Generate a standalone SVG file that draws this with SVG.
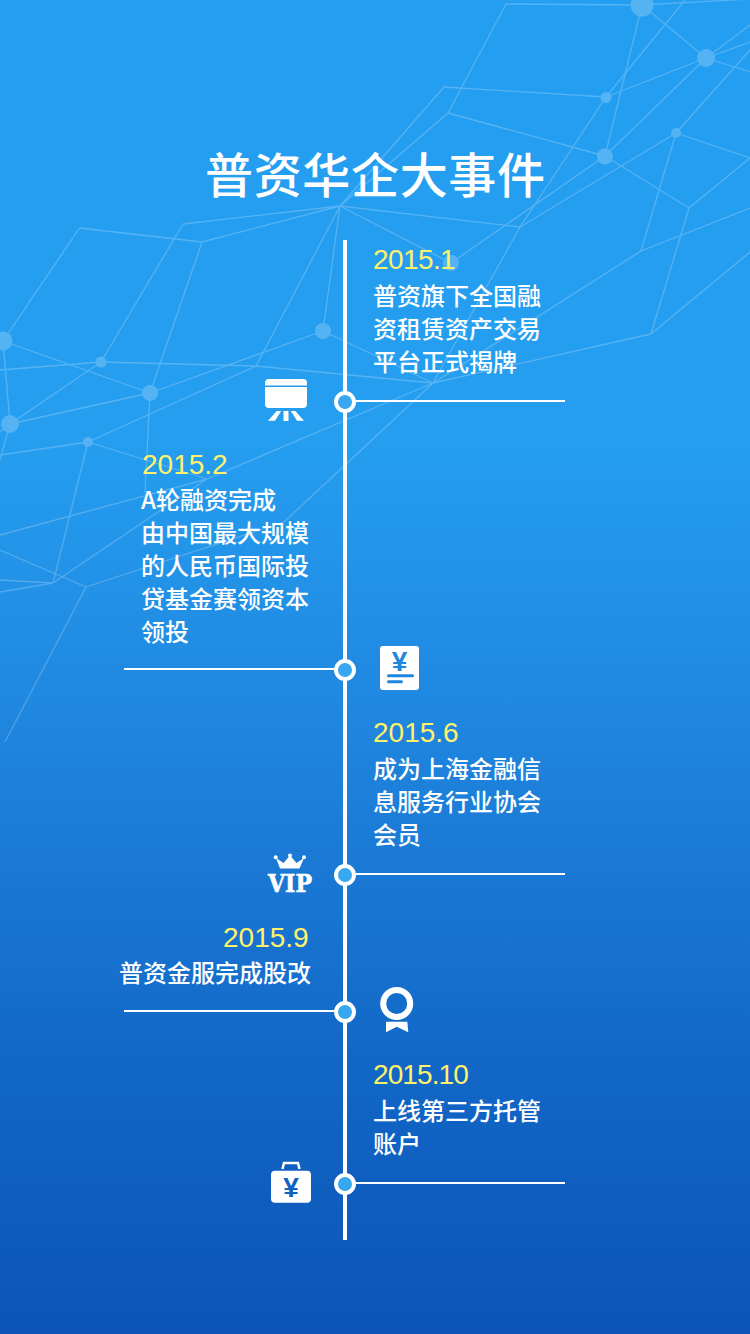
<svg xmlns="http://www.w3.org/2000/svg" width="750" height="1334" viewBox="0 0 750 1334">
<style>
.net{opacity:.22}
.net line{stroke:#fff;stroke-width:1.3}
.net circle{fill:#fff}
.title{font:500 48px "Noto Sans CJK SC","Liberation Sans",sans-serif;fill:#fff}
.date{font:400 28px "Liberation Sans","Noto Sans CJK SC",sans-serif;fill:#fff26b}
.body{font:500 24px "Noto Sans CJK SC","Liberation Sans",sans-serif;fill:#fff}
.rail{stroke:#fff;stroke-width:4;fill:none}
.tick{stroke:#fff;stroke-width:2;fill:none}
.dot{fill:#37a8f0;stroke:#fff;stroke-width:4}
.ic{fill:#fff}
.yen{font:700 28px "Liberation Sans",sans-serif;text-anchor:middle}
</style>
<defs>
<linearGradient id="bg" x1="0" y1="0" x2="0" y2="1">
<stop offset="0" stop-color="#249ef0"/>
<stop offset=".33" stop-color="#259ef0"/>
<stop offset=".55" stop-color="#1f85de"/>
<stop offset=".8" stop-color="#1267c6"/>
<stop offset="1" stop-color="#0c54b7"/>
</linearGradient>
</defs>
<rect width="750" height="1334" fill="url(#bg)"/>
<g class="net" id="network">
<line x1="506" y1="4" x2="642" y2="5"/><line x1="642" y1="5" x2="750" y2="-1"/><line x1="506" y1="4" x2="448" y2="113"/>
<line x1="642" y1="5" x2="706" y2="58"/><line x1="642" y1="5" x2="605" y2="156"/><line x1="706" y1="58" x2="606" y2="97"/>
<line x1="606" y1="97" x2="444" y2="87"/><line x1="606" y1="97" x2="685" y2="0"/><line x1="606" y1="97" x2="520" y2="227"/>
<line x1="520" y1="227" x2="676" y2="133"/><line x1="605" y1="156" x2="451" y2="263"/><line x1="605" y1="156" x2="448" y2="113"/>
<line x1="605" y1="156" x2="706" y2="58"/><line x1="605" y1="156" x2="689" y2="208"/><line x1="689" y1="208" x2="750" y2="158"/>
<line x1="676" y1="133" x2="750" y2="158"/><line x1="676" y1="133" x2="641" y2="251"/><line x1="676" y1="133" x2="750" y2="50"/>
<line x1="706" y1="58" x2="750" y2="25"/><line x1="706" y1="58" x2="750" y2="42"/><line x1="706" y1="58" x2="750" y2="72"/>
<line x1="689" y1="208" x2="651" y2="334"/><line x1="641" y1="251" x2="750" y2="208"/><line x1="641" y1="251" x2="433" y2="383"/>
<line x1="651" y1="334" x2="433" y2="383"/><line x1="651" y1="334" x2="750" y2="252"/>
<line x1="340" y1="206" x2="444" y2="87"/><line x1="340" y1="206" x2="448" y2="113"/><line x1="340" y1="206" x2="520" y2="227"/>
<line x1="520" y1="227" x2="433" y2="383"/><line x1="340" y1="206" x2="451" y2="263"/>
<line x1="340" y1="206" x2="183" y2="224"/><line x1="340" y1="206" x2="202" y2="242"/><line x1="79.500" y1="228" x2="202" y2="242"/>
<line x1="79.500" y1="228" x2="3" y2="341"/><line x1="183" y1="224" x2="101" y2="362"/><line x1="202" y1="242" x2="150" y2="393"/>
<line x1="3" y1="341" x2="150" y2="393"/><line x1="3" y1="341" x2="10" y2="424"/><line x1="101" y1="362" x2="10" y2="424"/>
<line x1="150" y1="393" x2="10" y2="424"/><line x1="101" y1="362" x2="0" y2="370"/><line x1="101" y1="362" x2="256" y2="366"/>
<line x1="256" y1="366" x2="433" y2="383"/><line x1="256" y1="366" x2="340" y2="206"/><line x1="323" y1="331" x2="150" y2="393"/>
<line x1="323" y1="331" x2="433" y2="383"/><line x1="323" y1="331" x2="340" y2="206"/><line x1="256" y1="366" x2="88" y2="442"/>
<line x1="88" y1="442" x2="0" y2="455"/><line x1="150" y1="393" x2="145" y2="493"/><line x1="88" y1="442" x2="207" y2="479"/>
<line x1="207" y1="479" x2="433" y2="383"/><line x1="88" y1="442" x2="53" y2="583"/><line x1="10" y1="424" x2="0" y2="460"/>
<line x1="10" y1="424" x2="0" y2="432"/><line x1="207" y1="479" x2="0" y2="535"/><line x1="0" y1="550" x2="86" y2="587"/>
<line x1="86" y1="587" x2="5" y2="742"/><line x1="86" y1="587" x2="284" y2="522"/><line x1="284" y1="522" x2="433" y2="383"/>
<line x1="53" y1="583" x2="207" y2="479"/><line x1="0" y1="580" x2="53" y2="583"/><line x1="0" y1="592" x2="53" y2="583"/>
<circle cx="642" cy="5" r="11.500"/><circle cx="706" cy="58" r="9"/><circle cx="606" cy="97.500" r="5.500"/><circle cx="605" cy="156.500" r="8"/><circle cx="676" cy="133" r="5"/><circle cx="451" cy="263" r="8"/>
<circle cx="3" cy="341" r="9.500"/><circle cx="101" cy="362" r="5.500"/><circle cx="150" cy="393" r="8"/><circle cx="10" cy="424" r="9"/><circle cx="323" cy="331" r="8"/><circle cx="88" cy="442" r="5"/>
</g>
<text class="title" x="375" y="193" text-anchor="middle" textLength="340" lengthAdjust="spacing">普资华企大事件</text>
<g id="connectors">
<line class="rail" x1="345" y1="240" x2="345" y2="1240"/>
<line class="tick" x1="345" y1="401" x2="565" y2="401"/>
<line class="tick" x1="124" y1="669" x2="345" y2="669"/>
<line class="tick" x1="345" y1="874" x2="565" y2="874"/>
<line class="tick" x1="124" y1="1011" x2="345" y2="1011"/>
<line class="tick" x1="345" y1="1183" x2="565" y2="1183"/>
</g>
<g id="event-2015-1">
<circle class="dot" cx="345" cy="402" r="9"/>
<text class="date" x="373" y="269" letter-spacing="-.6">2015.1</text>
<text class="body" x="373" y="305">普资旗下全国融</text><text class="body" x="373" y="338">资租赁资产交易</text><text class="body" x="373" y="371">平台正式揭牌</text>
<rect class="ic" x="265" y="379" width="42" height="29" rx="4"/>
<rect x="265" y="385.500" width="42" height="1.500" fill="#259ef0"/>
<path class="ic" d="M283.500 411h5v10h-5zM276.700 411h4.500L275 420.700h-7zM295.300 411h-4.500L297 420.700h7z"/>
</g>
<g id="event-2015-2">
<circle class="dot" cx="345" cy="670" r="9"/>
<text class="date" x="142" y="474">2015.2</text>
<text class="body" x="141" y="509">A轮融资完成</text><text class="body" x="141" y="542">由中国最大规模</text><text class="body" x="141" y="575">的人民币国际投</text><text class="body" x="141" y="608">贷基金赛领资本</text><text class="body" x="141" y="641">领投</text>
<rect class="ic" x="380" y="646" width="39" height="44" rx="3"/>
<text class="yen" x="399.500" y="671" fill="#1f87e0">¥</text>
<path d="M388.500 675.800h24M388.500 681.800h13" stroke="#1f87e0" stroke-width="3" stroke-linecap="round" fill="none"/>
</g>
<g id="event-2015-6">
<circle class="dot" cx="345" cy="875" r="9"/>
<text class="date" x="373" y="742">2015.6</text>
<text class="body" x="373" y="778">成为上海金融信</text><text class="body" x="373" y="811">息服务行业协会</text><text class="body" x="373" y="844">会员</text>
<path class="ic" d="M280 868.500L276 858L283.500 863L290 855.500L296.500 863L304 858L299.500 868.500Z"/>
<circle class="ic" cx="275.700" cy="857.300" r="2"/><circle class="ic" cx="290" cy="855.500" r="2"/><circle class="ic" cx="304" cy="857.300" r="2"/>
<text x="268" y="892" font-family="DejaVu Serif" font-weight="700" font-size="25" fill="#fff" stroke="#fff" stroke-width=".6" textLength="44" lengthAdjust="spacingAndGlyphs">VIP</text>
</g>
<g id="event-2015-9">
<circle class="dot" cx="345" cy="1012" r="9"/>
<text class="date" x="223" y="947">2015.9</text>
<text class="body" x="119" y="982">普资金服完成股改</text>
<circle cx="396.700" cy="1003.500" r="13.500" fill="none" stroke="#fff" stroke-width="6"/>
<path class="ic" d="M386 1021.700H407.300L408.300 1032.300L396.700 1026.700L386 1032.300Z"/>
</g>
<g id="event-2015-10">
<circle class="dot" cx="345" cy="1184" r="9"/>
<text class="date" x="373" y="1084" letter-spacing="-.9">2015.10</text>
<text class="body" x="373" y="1120">上线第三方托管</text><text class="body" x="373" y="1153">账户</text>
<rect class="ic" x="271" y="1170.700" width="40" height="32" rx="4"/>
<path d="M282.500 1169L284 1163H298L299.500 1169" stroke="#fff" stroke-width="2.500" fill="none"/>
<text class="yen" x="291" y="1197" fill="#0f62c1">¥</text>
</g>
</svg>
